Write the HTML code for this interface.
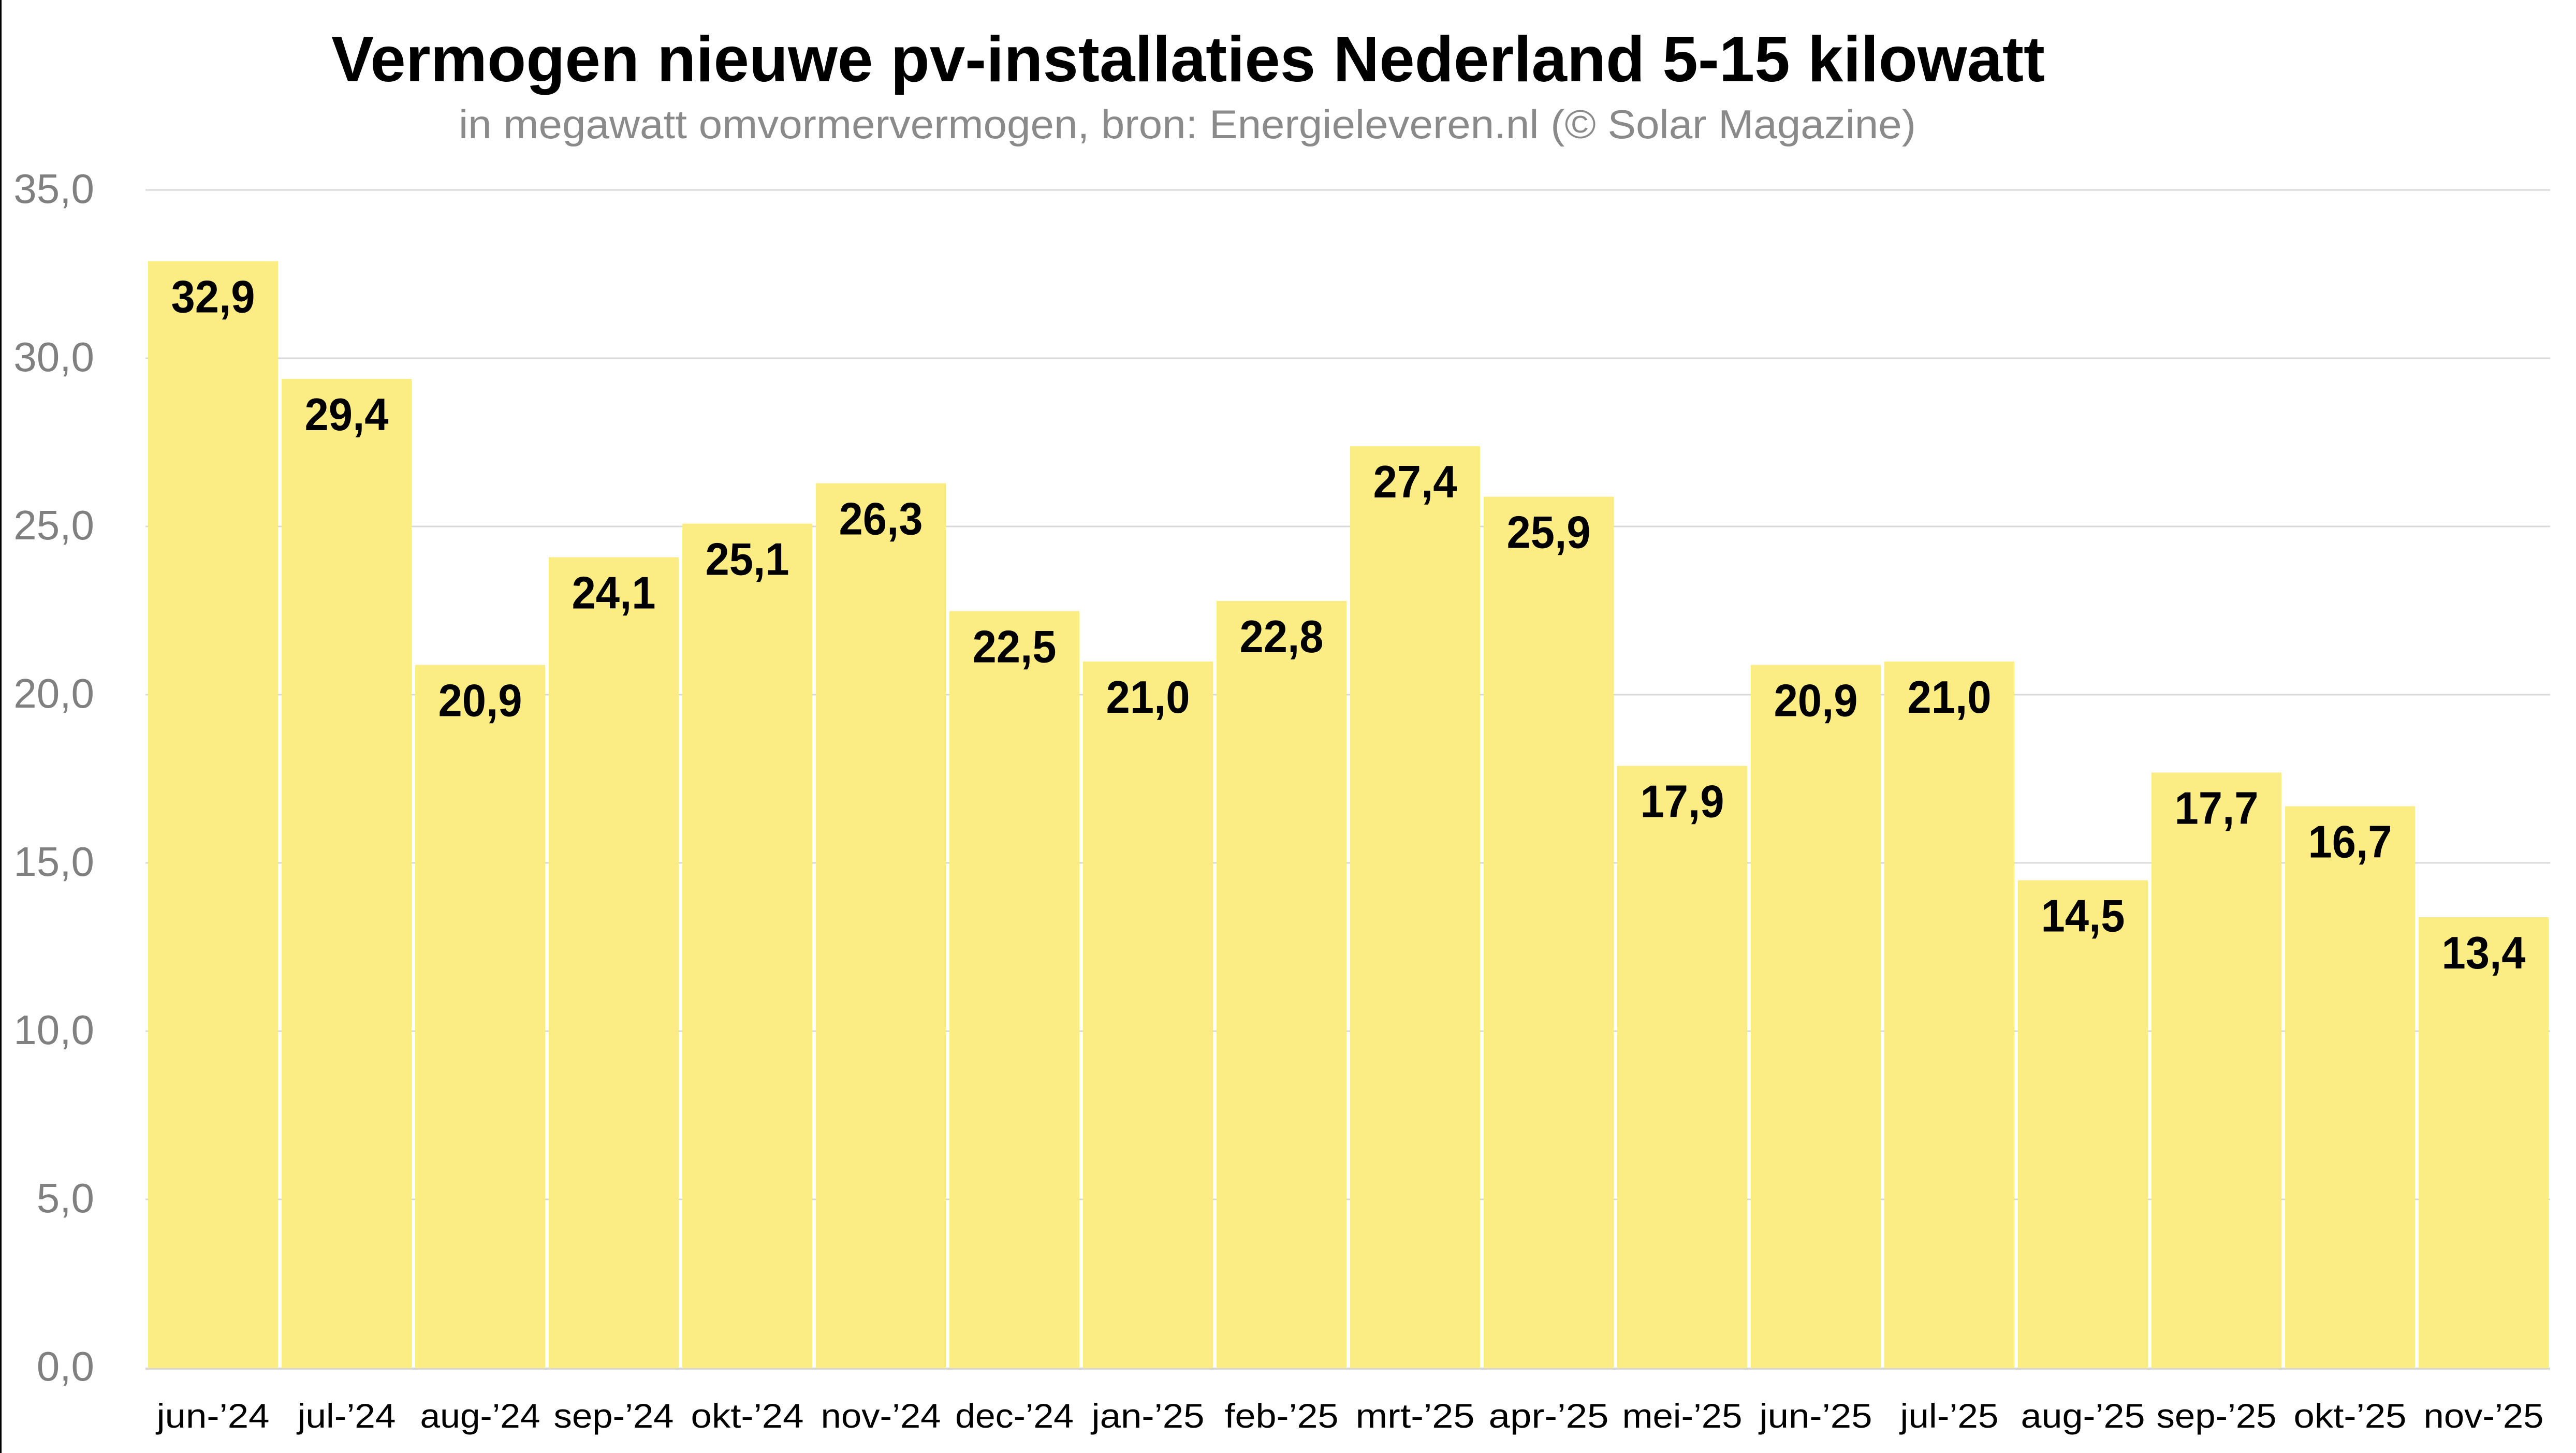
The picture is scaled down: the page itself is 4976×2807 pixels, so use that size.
<!DOCTYPE html>
<html><head><meta charset="utf-8"><style>html,body{margin:0;padding:0;background:#fff}svg{display:block}</style></head>
<body>
<svg width="4976" height="2807" viewBox="0 0 4976 2807" xmlns="http://www.w3.org/2000/svg" font-family="'Liberation Sans', sans-serif">
<rect width="4976" height="2807" fill="#fff"/>
<rect x="0" y="0" width="3" height="2807" fill="#000"/>
<text x="640" y="157" font-size="124" font-weight="bold" fill="#000" textLength="3310" lengthAdjust="spacingAndGlyphs">Vermogen nieuwe pv-installaties Nederland 5-15 kilowatt</text>
<text x="886" y="267" font-size="78" fill="#8a8a8a" textLength="2815" lengthAdjust="spacingAndGlyphs">in megawatt omvormervermogen, bron: Energieleveren.nl (© Solar Magazine)</text>
<g stroke="#d9d9d9" stroke-width="3">
<line x1="281" x2="4926" y1="367" y2="367"/>
<line x1="281" x2="4926" y1="692" y2="692"/>
<line x1="281" x2="4926" y1="1017" y2="1017"/>
<line x1="281" x2="4926" y1="1342" y2="1342"/>
<line x1="281" x2="4926" y1="1667" y2="1667"/>
<line x1="281" x2="4926" y1="1992" y2="1992"/>
<line x1="281" x2="4926" y1="2317" y2="2317"/>
<line x1="281" x2="4926" y1="2644" y2="2644" stroke="#d6d6d6" stroke-width="4"/>
</g>
<g font-size="80" fill="#808080" text-anchor="end">
<text x="182" y="392">35,0</text>
<text x="182" y="717">30,0</text>
<text x="182" y="1042">25,0</text>
<text x="182" y="1367">20,0</text>
<text x="182" y="1692">15,0</text>
<text x="182" y="2017">10,0</text>
<text x="182" y="2342">5,0</text>
<text x="182" y="2667">0,0</text>
</g>
<g fill="#FCEC84">
<rect x="286" y="504.5" width="251" height="2138.5"/>
<rect x="544" y="732" width="251" height="1911"/>
<rect x="802" y="1284.5" width="251" height="1358.5"/>
<rect x="1060" y="1076.5" width="251" height="1566.5"/>
<rect x="1318" y="1011.5" width="251" height="1631.5"/>
<rect x="1576" y="933.5" width="251" height="1709.5"/>
<rect x="1834" y="1180.5" width="251" height="1462.5"/>
<rect x="2092" y="1278" width="251" height="1365"/>
<rect x="2350" y="1161" width="251" height="1482"/>
<rect x="2608" y="862" width="251" height="1781"/>
<rect x="2866" y="959.5" width="251" height="1683.5"/>
<rect x="3124" y="1479.5" width="251" height="1163.5"/>
<rect x="3382" y="1284.5" width="251" height="1358.5"/>
<rect x="3640" y="1278" width="251" height="1365"/>
<rect x="3898" y="1700.5" width="251" height="942.5"/>
<rect x="4156" y="1492.5" width="251" height="1150.5"/>
<rect x="4414" y="1557.5" width="251" height="1085.5"/>
<rect x="4672" y="1772" width="251" height="871"/>
</g>
<g font-size="88" font-weight="bold" fill="#000" text-anchor="middle">
<text x="411.5" y="603.5" textLength="162" lengthAdjust="spacingAndGlyphs">32,9</text>
<text x="669.5" y="831" textLength="162" lengthAdjust="spacingAndGlyphs">29,4</text>
<text x="927.5" y="1383.5" textLength="162" lengthAdjust="spacingAndGlyphs">20,9</text>
<text x="1185.5" y="1175.5" textLength="162" lengthAdjust="spacingAndGlyphs">24,1</text>
<text x="1443.5" y="1110.5" textLength="162" lengthAdjust="spacingAndGlyphs">25,1</text>
<text x="1701.5" y="1032.5" textLength="162" lengthAdjust="spacingAndGlyphs">26,3</text>
<text x="1959.5" y="1279.5" textLength="162" lengthAdjust="spacingAndGlyphs">22,5</text>
<text x="2217.5" y="1377" textLength="162" lengthAdjust="spacingAndGlyphs">21,0</text>
<text x="2475.5" y="1260" textLength="162" lengthAdjust="spacingAndGlyphs">22,8</text>
<text x="2733.5" y="961" textLength="162" lengthAdjust="spacingAndGlyphs">27,4</text>
<text x="2991.5" y="1058.5" textLength="162" lengthAdjust="spacingAndGlyphs">25,9</text>
<text x="3249.5" y="1578.5" textLength="162" lengthAdjust="spacingAndGlyphs">17,9</text>
<text x="3507.5" y="1383.5" textLength="162" lengthAdjust="spacingAndGlyphs">20,9</text>
<text x="3765.5" y="1377" textLength="162" lengthAdjust="spacingAndGlyphs">21,0</text>
<text x="4023.5" y="1799.5" textLength="162" lengthAdjust="spacingAndGlyphs">14,5</text>
<text x="4281.5" y="1591.5" textLength="162" lengthAdjust="spacingAndGlyphs">17,7</text>
<text x="4539.5" y="1656.5" textLength="162" lengthAdjust="spacingAndGlyphs">16,7</text>
<text x="4797.5" y="1871" textLength="162" lengthAdjust="spacingAndGlyphs">13,4</text>
</g>
<g font-size="66" fill="#000" text-anchor="middle">
<text x="411.5" y="2758" textLength="218" lengthAdjust="spacingAndGlyphs">jun-’24</text>
<text x="669.5" y="2758" textLength="190" lengthAdjust="spacingAndGlyphs">jul-’24</text>
<text x="927.5" y="2758" textLength="232" lengthAdjust="spacingAndGlyphs">aug-’24</text>
<text x="1185.5" y="2758" textLength="232" lengthAdjust="spacingAndGlyphs">sep-’24</text>
<text x="1443.5" y="2758" textLength="218" lengthAdjust="spacingAndGlyphs">okt-’24</text>
<text x="1701.5" y="2758" textLength="232" lengthAdjust="spacingAndGlyphs">nov-’24</text>
<text x="1959.5" y="2758" textLength="229" lengthAdjust="spacingAndGlyphs">dec-’24</text>
<text x="2217.5" y="2758" textLength="218" lengthAdjust="spacingAndGlyphs">jan-’25</text>
<text x="2475.5" y="2758" textLength="220" lengthAdjust="spacingAndGlyphs">feb-’25</text>
<text x="2733.5" y="2758" textLength="230" lengthAdjust="spacingAndGlyphs">mrt-’25</text>
<text x="2991.5" y="2758" textLength="232" lengthAdjust="spacingAndGlyphs">apr-’25</text>
<text x="3249.5" y="2758" textLength="232" lengthAdjust="spacingAndGlyphs">mei-’25</text>
<text x="3507.5" y="2758" textLength="218" lengthAdjust="spacingAndGlyphs">jun-’25</text>
<text x="3765.5" y="2758" textLength="190" lengthAdjust="spacingAndGlyphs">jul-’25</text>
<text x="4023.5" y="2758" textLength="240" lengthAdjust="spacingAndGlyphs">aug-’25</text>
<text x="4281.5" y="2758" textLength="232" lengthAdjust="spacingAndGlyphs">sep-’25</text>
<text x="4539.5" y="2758" textLength="218" lengthAdjust="spacingAndGlyphs">okt-’25</text>
<text x="4797.5" y="2758" textLength="232" lengthAdjust="spacingAndGlyphs">nov-’25</text>
</g>
</svg>
</body></html>
